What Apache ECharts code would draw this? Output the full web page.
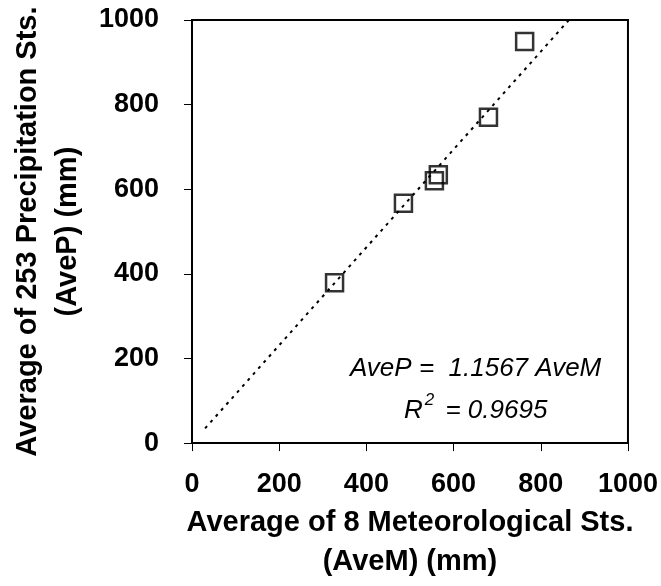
<!DOCTYPE html>
<html>
<head>
<meta charset="utf-8">
<script src="https://cdn.jsdelivr.net/npm/echarts@6/dist/echarts.min.js"></script>
<style>
  html, body { margin: 0; padding: 0; background: #fff; }
</style>
</head>
<body>
<div id="chart" style="width:661px; height:586px;"></div>
<script>
// 8站平均值 (x) 与 253站平均值 (y)
const aveM = [327, 485, 556, 565, 680, 763];
const aveP = [379, 567, 620, 634, 770, 949];
const slope = 1.1567;   // 趋势线 AveP = 1.1567 AveM
const r2 = '0.9695';
const lineStart = 30;   // 趋势线起点 x
const lineEnd = 864;    // 趋势线终点 x (到达 y=1000)
const ticks = [0, 200, 400, 600, 800, 1000];

const pts = aveM.map((x, i) => [x, aveP[i]]);
const trend = [[lineStart, slope * lineStart], [lineEnd, slope * lineEnd]];

const font = 'Liberation Sans, Arial, sans-serif';
const chart = echarts.init(document.getElementById('chart'));

chart.setOption({
  animation: false,
  grid: {
    left: 190, top: 20, right: 30, bottom: 139,
    show: true, borderColor: '#000', borderWidth: 2
  },
  xAxis: {
    type: 'value', min: ticks[0], max: ticks[ticks.length - 1], interval: 200,
    name: 'Average of 8 Meteorological Sts.\n(AveM) (mm)',
    nameLocation: 'middle', nameGap: 55,
    nameTextStyle: { fontFamily: font, fontWeight: 'bold', fontSize: 29, color: '#000', lineHeight: 39 },
    axisLine: { lineStyle: { color: '#000', width: 2 } },
    axisTick: { show: true, inside: false, length: 8, lineStyle: { color: '#000', width: 1 } },
    axisLabel: { margin: 28, fontFamily: font, fontWeight: 'bold', fontSize: 27, color: '#000',
      formatter: v => String(v) },
    splitLine: { show: false }
  },
  yAxis: {
    type: 'value', min: ticks[0], max: ticks[ticks.length - 1], interval: 200,
    name: 'Average of 253 Precipitation Sts.\n(AveP) (mm)',
    nameLocation: 'middle', nameGap: 104,
    nameTextStyle: { fontFamily: font, fontWeight: 'bold', fontSize: 29, color: '#000', lineHeight: 40 },
    axisLine: { lineStyle: { color: '#000', width: 2 } },
    axisTick: { show: true, inside: false, length: 8, lineStyle: { color: '#000', width: 1 } },
    axisLabel: { margin: 33, fontFamily: font, fontWeight: 'bold', fontSize: 27, color: '#000',
      formatter: v => String(v) },
    splitLine: { show: false }
  },
  series: [
    {
      type: 'line',
      data: trend,
      symbol: 'none',
      lineStyle: { color: '#000', width: 2, type: [3, 5] },
      z: 1
    },
    {
      type: 'scatter',
      data: pts,
      symbol: 'rect',
      symbolSize: 17,
      itemStyle: { color: 'rgba(255,255,255,0)', borderColor: '#000', borderWidth: 2.5 },
      z: 2
    }
  ],
  graphic: [
    {
      type: 'text', left: 350, top: 356,
      style: {
        text: 'AveP =  ' + slope + ' AveM',
        font: 'italic 26px ' + font, fill: '#000'
      }
    },
    {
      type: 'text', left: 404, top: 392,
      style: {
        text: '{b|R}{s|2}{b| = ' + r2 + '}',
        rich: {
          b: { font: 'italic 26px ' + font, fill: '#000', lineHeight: 32, verticalAlign: 'bottom' },
          s: { font: 'italic 17px ' + font, fill: '#000', lineHeight: 32, verticalAlign: 'top', padding: [0, 4, 0, 2] }
        }
      }
    }
  ]
});
</script>
</body>
</html>
